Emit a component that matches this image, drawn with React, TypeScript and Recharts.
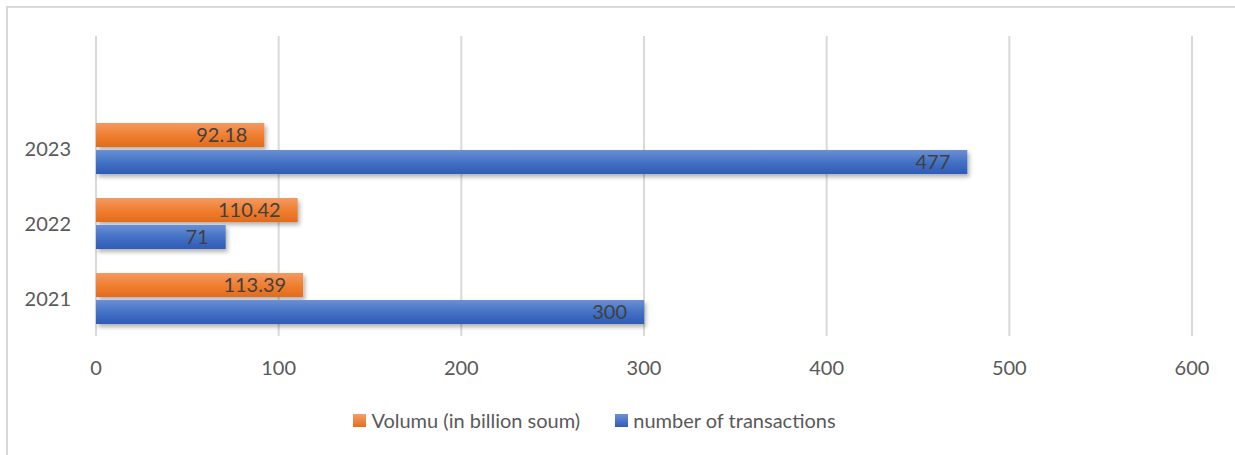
import React from "react";
import { BarChart, Bar, XAxis, YAxis, CartesianGrid, Legend, LabelList } from "recharts";

// categories, bottom to top (the blank one is the empty row Excel left at the top)
const YEARS = ["2021", "2022", "2023", " "];
const VOLUME = [113.39, 110.42, 92.18, null];
const TRANSACTIONS = [300, 71, 477, null];
const X_TICKS = [0, 100, 200, 300, 400, 500, 600];

const data = YEARS.map((year, i) => ({
  year,
  volume: VOLUME[i],
  transactions: TRANSACTIONS[i],
}));

const FONT = "Lato, 'Open Sans', sans-serif";

const legendItems = [
  { label: "Volumu (in billion soum)", grad: "linear-gradient(#f4a06a, #e56d1d)" },
  { label: "number of transactions", grad: "linear-gradient(#6d90d6, #2f5cb8)" },
];

function LegendContent() {
  return (
    <div style={{ display: "flex", justifyContent: "center", gap: 35, height: 24, lineHeight: "24px", fontFamily: FONT, fontSize: 20, color: "#595959", paddingRight: 46 }}>
      {legendItems.map((it) => (
        <div key={it.label} style={{ display: "flex", alignItems: "center" }}>
          <span style={{ display: "inline-block", width: 13, height: 13, background: it.grad, marginRight: 5 }} />
          <span>{it.label}</span>
        </div>
      ))}
    </div>
  );
}

export default function App() {
  return (
    <div style={{ position: "absolute", left: 0, top: 0, width: 1235, height: 455, overflow: "hidden", background: "#fff" }}>
      <div style={{ position: "absolute", left: 6, top: 6, width: 1260, height: 480, border: "2px solid #d9d9d9", boxSizing: "border-box" }} />
      <div style={{ position: "absolute", left: 0, top: 0 }}>
        <BarChart
          width={1235}
          height={455}
          data={data}
          layout="vertical"
          margin={{ top: 36, right: 43, bottom: 55, left: 0 }}
          barSize={24}
          barGap={3}
        >
          <defs>
            <linearGradient id="gOrange" x1="0" y1="0" x2="0" y2="1">
              <stop offset="0%" stopColor="#f39a62" />
              <stop offset="50%" stopColor="#f07f31" />
              <stop offset="100%" stopColor="#e36b1b" />
            </linearGradient>
            <linearGradient id="gBlue" x1="0" y1="0" x2="0" y2="1">
              <stop offset="0%" stopColor="#6b8fd6" />
              <stop offset="50%" stopColor="#4472c4" />
              <stop offset="100%" stopColor="#2e5bb7" />
            </linearGradient>
            <filter id="shadow" x="-5%" y="-30%" width="115%" height="180%">
              <feDropShadow dx="2" dy="3" stdDeviation="2" floodColor="#000" floodOpacity="0.3" />
            </filter>
          </defs>
          <CartesianGrid horizontal={false} stroke="#d9d9d9" strokeWidth={2} />
          <XAxis
            type="number"
            domain={[0, 600]}
            ticks={X_TICKS}
            axisLine={false}
            tickLine={false}
            tickSize={0}
            tickMargin={25}
            height={40}
            tick={{ fontSize: 20, fill: "#595959", fontFamily: FONT }}
          />
          <YAxis
            type="category"
            dataKey="year"
            reversed
            axisLine={false}
            tickLine={false}
            tickSize={0}
            tickMargin={25}
            width={96}
            tick={{ fontSize: 20, fill: "#595959", fontFamily: FONT }}
          />
          <Legend verticalAlign="bottom" wrapperStyle={{ left: 0, width: 1235, top: 408 }} content={() => <LegendContent />} />
          <Bar dataKey="volume" name="Volumu (in billion soum)" fill="url(#gOrange)" filter="url(#shadow)" isAnimationActive={false}>
            <LabelList dataKey="volume" position="insideRight" offset={17} fill="#404040" fontSize={20} fontFamily={FONT} />
          </Bar>
          <Bar dataKey="transactions" name="number of transactions" fill="url(#gBlue)" filter="url(#shadow)" isAnimationActive={false}>
            <LabelList dataKey="transactions" position="insideRight" offset={17} fill="#404040" fontSize={20} fontFamily={FONT} />
          </Bar>
        </BarChart>
      </div>
    </div>
  );
}
